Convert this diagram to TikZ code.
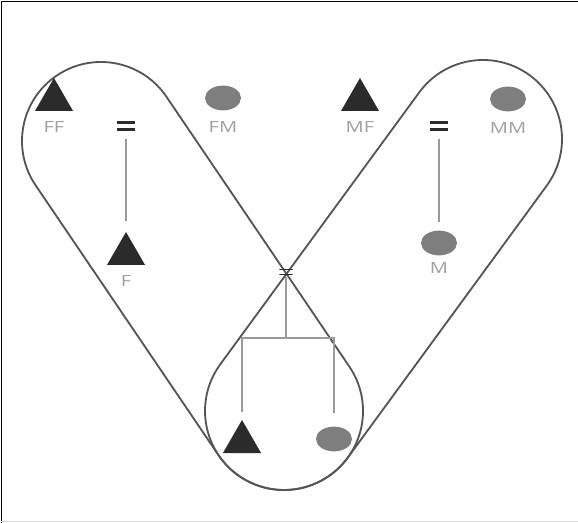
\documentclass[tikz,border=0pt]{standalone}
\usepackage{fontspec}
\setmainfont{Open Sans}
\usetikzlibrary{shapes.geometric,calc}
\definecolor{ink}{HTML}{2B2B2B}
\definecolor{greyf}{HTML}{7E7E7E}
\definecolor{rimc}{HTML}{555555}
\definecolor{wire}{HTML}{9A9A9A}
\definecolor{lblc}{HTML}{A0A0A0}
\newcommand{\lblw}[1]{\scalebox{1.3}[1]{#1}}
\tikzset{
  male/.style   ={regular polygon,regular polygon sides=3,fill=ink,inner sep=0pt,
                  minimum size=1.1cm},
  female/.style ={ellipse,fill=greyf,inner sep=0pt,minimum width=0.9cm,
                  minimum height=0.62cm},
  lbl/.style    ={font=\fontsize{11}{13}\selectfont,text=lblc,inner sep=1pt,yshift=-0.22cm},
  wed/.style    ={inner sep=0pt,minimum width=0.47cm,minimum height=0.65cm,
                  path picture={\foreach \dy in {-2.6pt,2.6pt}
                    \draw[ink,line width=2.4pt] ([yshift=\dy]path picture bounding box.west)
                      -- ([yshift=\dy]path picture bounding box.east);}},
  wedx/.style   ={inner sep=0pt,minimum width=0.33cm,minimum height=0.25cm,
                  path picture={\foreach \dy in {-1.8pt,1.8pt}
                    \draw[ink,line width=1.2pt] ([yshift=\dy]path picture bounding box.west)
                      -- ([yshift=\dy]path picture bounding box.east);}},
  rim/.style    ={draw=rimc,line width=1.3pt},
  link/.style   ={draw=wire,line width=1.1pt},
}
\begin{document}
\begin{tikzpicture}[x=0.025cm,y=0.025cm]
    \useasboundingbox (0,0) rectangle (578,-523);
    % frame
    \draw[black,line width=1.2pt] (1.5,-523) -- (1.5,-1.5) -- (578,-1.5);
    \draw[black!12,line width=0.8pt] (1.5,-521.5) -- (578,-521.5);

    % the two lines of descent
    \foreach \cx/\cy/\ang/\len in {101/-141/-55.87/326.2,483/-139/-126.19/337.0}
      \draw[rim,shift={(\cx,\cy)},rotate=\ang] (0,79) -- (\len,79)
        arc[start angle=90,end angle=-90,radius=79] -- (0,-79)
        arc[start angle=270,end angle=90,radius=79] -- cycle;

    % grandparents
    \node[male,label={[lbl]below:\lblw{FF}}] (ff) at (54,-100) {};
    \node[female,label={[lbl]below:\lblw{FM}}] (fm) at (223,-98) {};
    \node[male,label={[lbl]below:\lblw{MF}}] (mf) at (360,-100) {};
    \node[female,label={[lbl]below:\lblw{MM}}] (mm) at (508,-99) {};
    \node[wed] (wf) at (126,-126) {};
    \node[wed] (wm) at (439,-126) {};
    % parents
    \node[male,label={[lbl]below:\lblw{F}}] (f) at (126,-254) {};
    \node[female,label={[lbl,yshift=0.1cm]below:\lblw{M}}] (m) at (439,-243) {};
    \node[wedx] (wp) at (286,-272) {};
    % children
    \node[male] (son) at (242,-442) {};
    \node[female] (dau) at (334,-439) {};
    \coordinate (kids) at (286,-338);

    % links
    \draw[link,shorten >=0.25cm] (wf) -- (f);
    \draw[link,shorten >=0.215cm] (wm) -- (m);
    \draw[link] (wp) -- (kids);
    \draw[link,shorten >=0.175cm] (kids) -| (son);
    \draw[link,shorten >=0.34cm] (kids) -| (dau);
\end{tikzpicture}
\end{document}
